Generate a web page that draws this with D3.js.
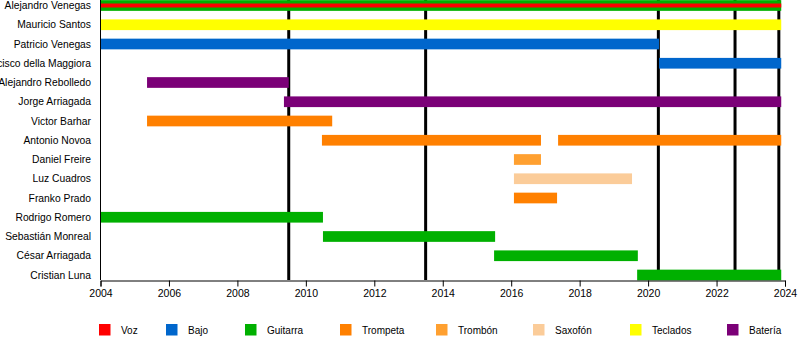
<!DOCTYPE html>
<html><head><meta charset="utf-8">
<script src="https://cdn.jsdelivr.net/npm/d3@7"></script>
<style>body{margin:0;background:#fff}svg{display:block;font-family:"Liberation Sans",Arial,sans-serif}</style>
</head><body><svg id="c" width="800" height="340"></svg>
<script>
const members = ["Alejandro Venegas","Mauricio Santos","Patricio Venegas","Francisco della Maggiora","Alejandro Rebolledo","Jorge Arriagada","Victor Barhar","Antonio Novoa","Daniel Freire","Luz Cuadros","Franko Prado","Rodrigo Romero","Sebastián Monreal","César Arriagada","Cristian Luna"];
const roles = ["Voz","Bajo","Guitarra","Trompeta","Trombón","Saxofón","Teclados","Batería"];
const roleColors = ["#ff0000","#0066cc","#00b000","#ff8000","#ffa030","#fbcc99","#ffff00","#7b0077"];
// member, role, start, end
const periods = [
  ["Alejandro Venegas","Guitarra",2004,2023.89],
  ["Mauricio Santos","Teclados",2004,2023.89],
  ["Patricio Venegas","Bajo",2004,2020.32],
  ["Francisco della Maggiora","Bajo",2020.32,2023.89],
  ["Alejandro Rebolledo","Batería",2005.36,2009.5],
  ["Jorge Arriagada","Batería",2009.36,2023.89],
  ["Victor Barhar","Trompeta",2005.36,2010.77],
  ["Antonio Novoa","Trompeta",2010.47,2016.87],
  ["Antonio Novoa","Trompeta",2017.37,2023.89],
  ["Daniel Freire","Trombón",2016.08,2016.87],
  ["Luz Cuadros","Saxofón",2016.08,2019.53],
  ["Franko Prado","Trompeta",2016.08,2017.34],
  ["Rodrigo Romero","Guitarra",2004,2010.5],
  ["Sebastián Monreal","Guitarra",2010.5,2015.53],
  ["César Arriagada","Guitarra",2015.5,2019.7],
  ["Cristian Luna","Guitarra",2019.68,2023.89]
];
// thin overlay stripes (secondary role)
const stripes = [
  ["Alejandro Venegas","Voz",2004,2023.89]
];
const albumLines = [2009.5,2013.5,2020.3,2022.54,2023.82];
const tickYears = [2004,2006,2008,2010,2012,2014,2016,2018,2020,2022,2024];

const svg = d3.select("#c");
const x = d3.scaleLinear().domain([2004,2024]).range([100.5,785]);
const y = d3.scalePoint().domain(members).range([5.5,275]);
const color = d3.scaleOrdinal().domain(roles).range(roleColors);
const barH = 10.7;

const g = svg.append("g");
g.append("g").selectAll("line").data(albumLines).join("line")
  .attr("x1",d=>x(d)).attr("x2",d=>x(d)).attr("y1",0).attr("y2",280)
  .attr("stroke","#000").attr("stroke-width",3);

g.append("g").selectAll("rect").data(periods).join("rect")
  .attr("x",d=>x(d[2])).attr("width",d=>x(d[3])-x(d[2]))
  .attr("y",d=>y(d[0])-barH/2).attr("height",barH)
  .attr("fill",d=>color(d[1]));
g.append("g").selectAll("rect").data(stripes).join("rect")
  .attr("x",d=>x(d[2])).attr("width",d=>x(d[3])-x(d[2]))
  .attr("y",d=>y(d[0])-2).attr("height",4)
  .attr("fill",d=>color(d[1]));

// left axis line
g.append("line").attr("x1",100.5).attr("x2",100.5).attr("y1",0).attr("y2",280).attr("stroke","#000").attr("stroke-width",1);

// names
g.append("g").selectAll("text").data(members).join("text")
  .attr("x",91).attr("y",d=>y(d)).attr("dy","0.35em").attr("text-anchor","end")
  .attr("font-size",10.3).attr("fill","#000").text(d=>d);

// x axis
const xAxis = d3.axisBottom(x).tickValues(tickYears).tickFormat(d3.format("d")).tickSize(6).tickPadding(3);
const ax = svg.append("g").attr("transform","translate(0,280.5)").call(xAxis);
ax.select(".domain").attr("stroke","#000");
ax.selectAll("text").attr("font-size",10.5).attr("font-family","Liberation Sans, Arial, sans-serif").attr("fill","#000");

// legend
const legendX = [99,166,245,340,436,533,630,727];
const lg = svg.append("g").selectAll("g").data(roles).join("g")
  .attr("transform",(d,i)=>`translate(${legendX[i]},324)`);
lg.append("rect").attr("width",11.5).attr("height",11.5).attr("fill",d=>color(d));
lg.append("text").attr("x",22).attr("y",6).attr("dy","0.35em").attr("font-size",10).text(d=>d);
</script></body></html>
